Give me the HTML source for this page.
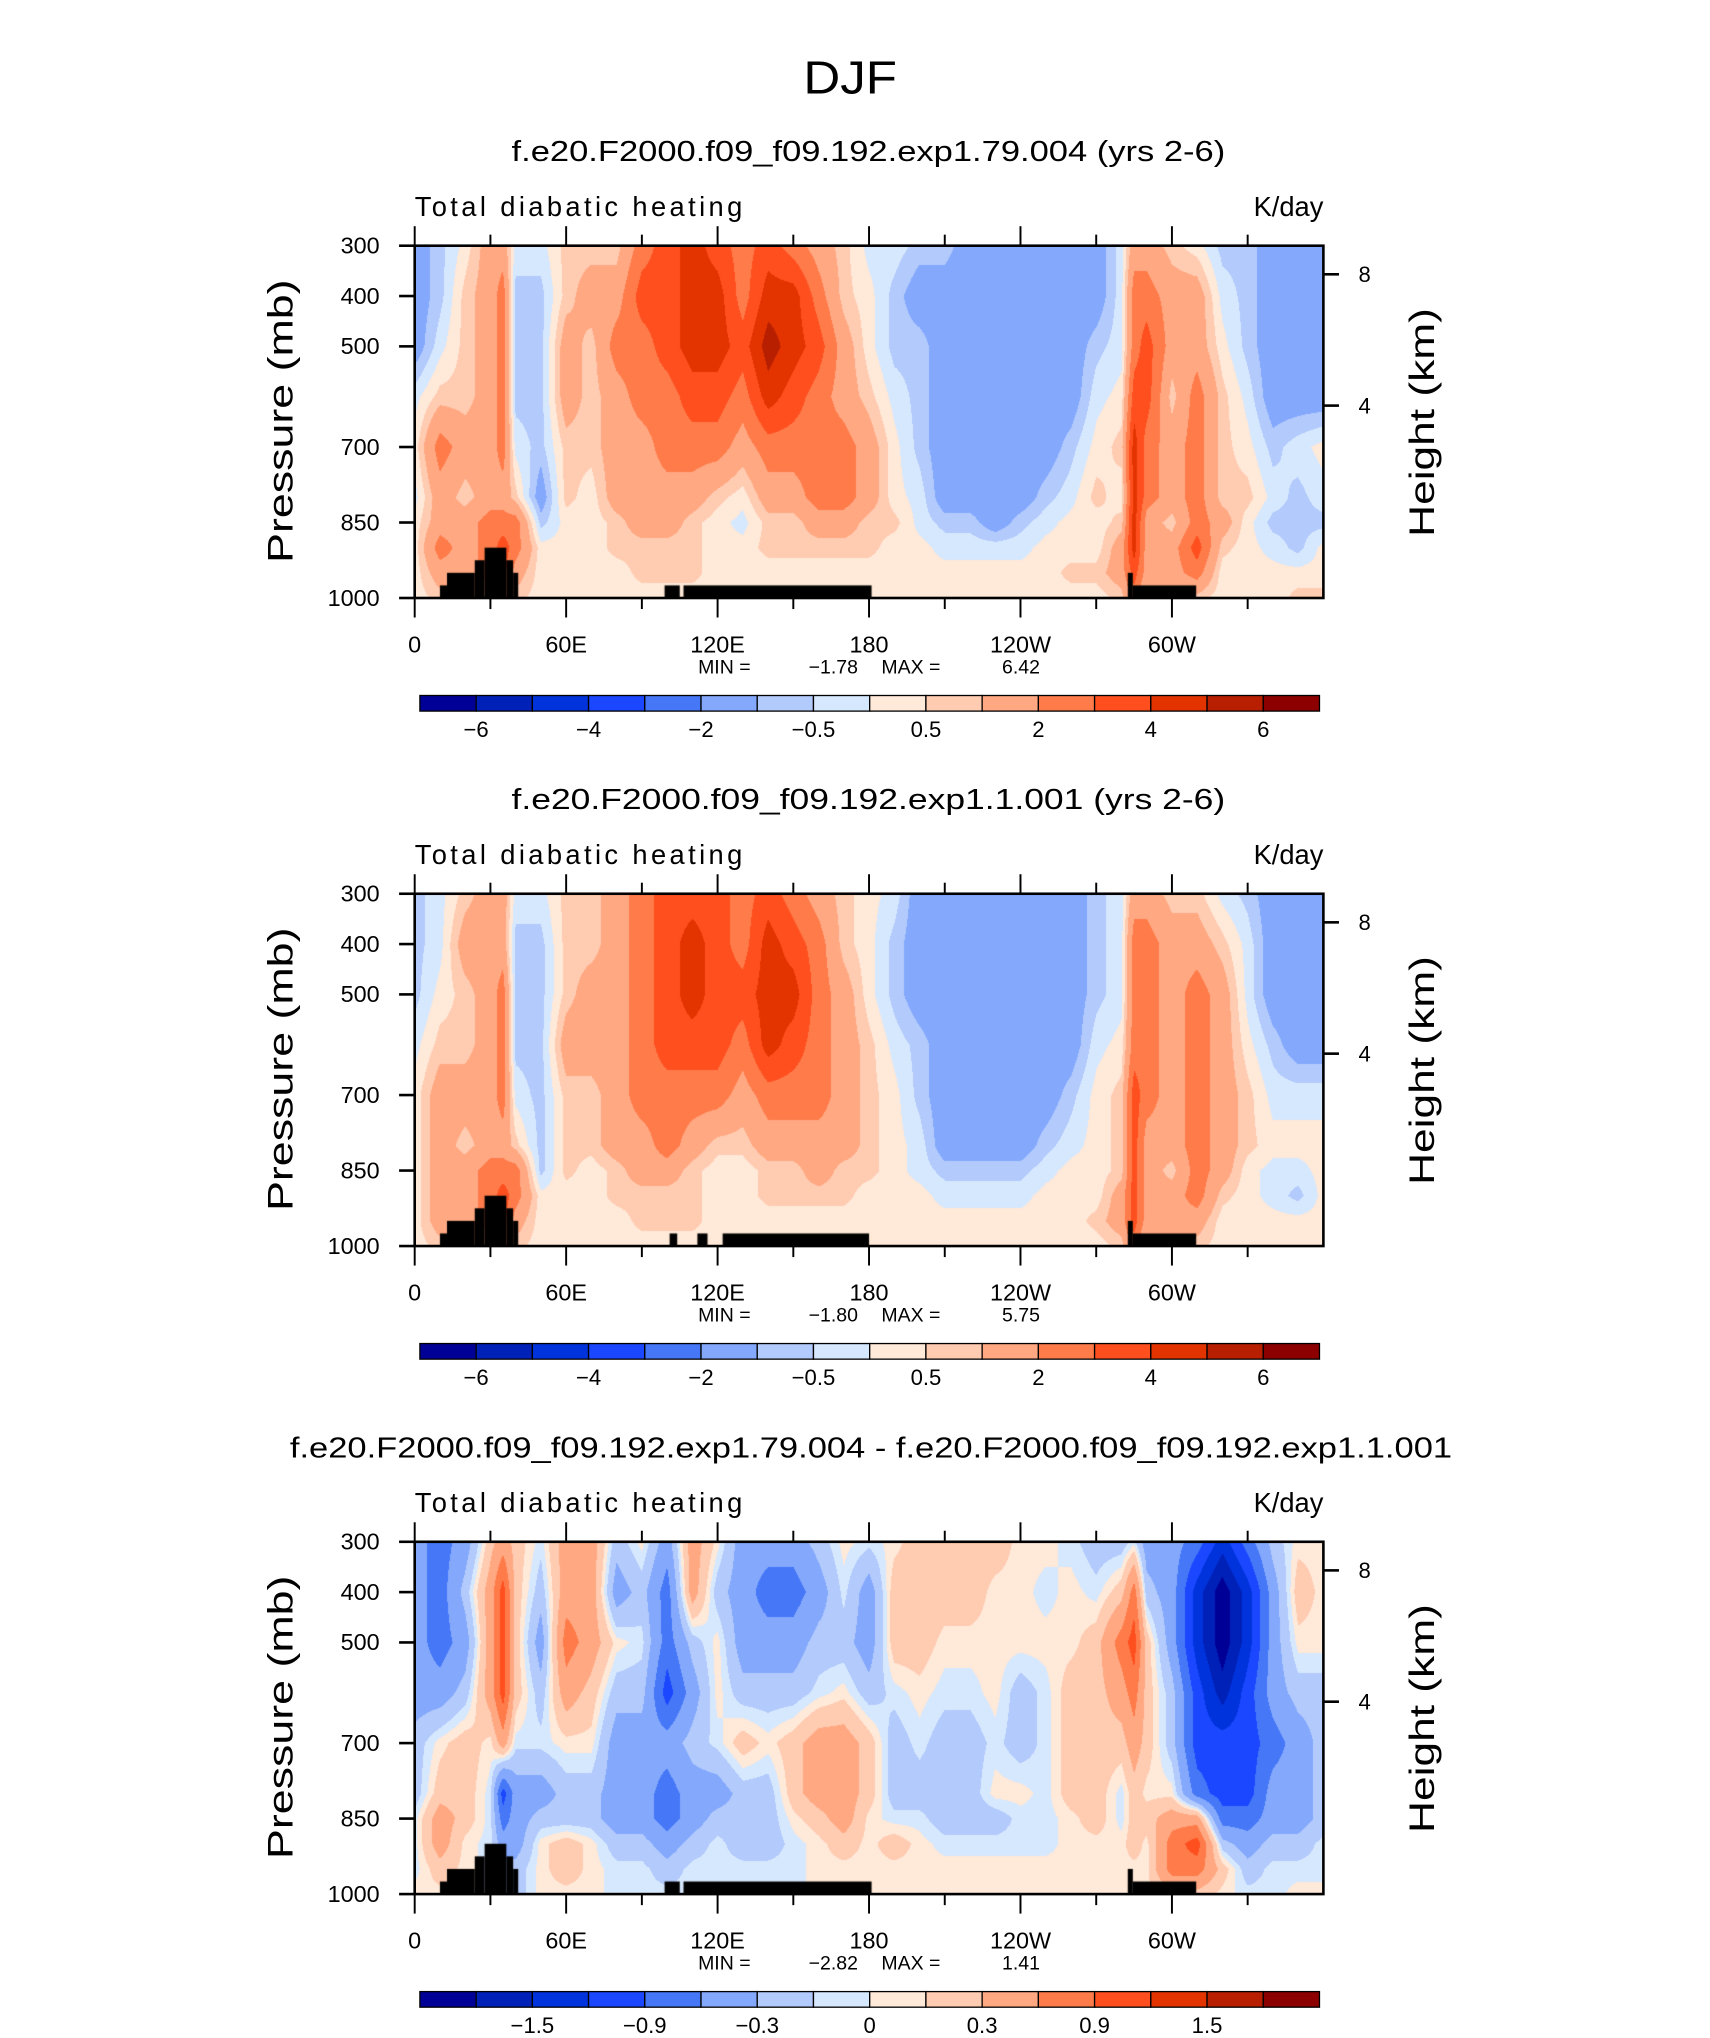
<!DOCTYPE html>
<html><head><meta charset="utf-8"><style>
html,body{margin:0;padding:0;background:#fff;}
#wrap{position:relative;width:1710px;height:2038px;overflow:hidden;}
canvas,svg{position:absolute;left:0;top:0;}
text{font-family:"Liberation Sans",sans-serif;fill:#000;}
</style></head><body>
<div id="wrap">
<canvas id="cv" width="1710" height="2038"></canvas>
<svg id="sv" width="1710" height="2038" viewBox="0 0 1315.4 1567.7"></svg>
</div>
<script>
// ---- data ----
const LON = [0,10,20,30,35,40,50,60,70,80,90,100,110,120,130,140,150,160,170,180,190,200,210,220,230,240,250,260,270,280,285,290,300,310,320,330,340,350,360];
const PLEV = [300,400,500,600,700,800,850,900,950,1000];
const LEVELS_ABS = [-6,-5,-4,-3,-2,-1,-0.5,0,0.5,1,2,3,4,5,6];
const LEVELS_DIFF = [-1.8,-1.5,-1.2,-0.9,-0.6,-0.3,-0.1,0,0.1,0.3,0.6,0.9,1.2,1.5,1.8];
const CB_LABELS_ABS = ['−6','−4','−2','−0.5','0.5','2','4','6'];
const CB_LABEL_IDX_ABS = [0,2,4,6,8,10,12,14];
const CB_LABELS_DIFF = ['−1.5','−0.9','−0.3','0','0.3','0.9','1.5'];
const CB_LABEL_IDX_DIFF = [1,3,5,7,9,11,13];
const PRESS_TICKS = [300,400,500,700,850,1000];
const LON_TICKS = [0,60,120,180,240,300];
const LON_LABELS = ['0','60E','120E','180','120W','60W'];
const HEIGHT_TICKS = [8,4];
const TITLES = ['f.e20.F2000.f09_f09.192.exp1.79.004 (yrs 2-6)','f.e20.F2000.f09_f09.192.exp1.1.001 (yrs 2-6)','f.e20.F2000.f09_f09.192.exp1.79.004 - f.e20.F2000.f09_f09.192.exp1.1.001'];
const MINS = ['−1.78','−1.80','−2.82'];
const MAXS = ['6.42','5.75','1.41'];

// columns by LON, values at PLEV (300..1000)
const field1 = [
[-1.5,-1.5,-1.5,-0.2,0.2,-0.2,0.2,0.2,0.2,0.2],
[-0.7,-0.7,-0.2,0.7,2.5,1.5,1.5,2.5,1.5,0.7],
[0.2,0.7,0.7,0.7,1.5,0.7,1.5,1.5,1.5,0.7],
[1.5,1.5,1.5,1.5,1.5,1.5,2.5,2.5,2.5,1.5],
[1.5,2.5,2.5,2.5,2.5,1.5,2.5,3.5,3.5,2.5],
[-0.2,-0.7,-0.7,-0.7,-0.2,0.7,2.5,2.5,1.5,0.7],
[-0.2,-0.7,-0.7,-0.7,-0.7,-1.5,-0.7,0.2,0.2,0.2],
[0.7,0.7,1.5,1.5,0.7,0.7,0.2,0.2,0.2,0.2],
[0.7,1.5,0.7,0.7,0.7,0.2,0.2,0.2,0.2,0.2],
[0.7,1.5,2.5,1.5,1.5,1.5,0.7,0.7,0.2,0.2],
[2.5,3.5,2.5,2.5,1.5,1.5,1.5,0.7,0.7,0.2],
[3.5,3.5,3.5,2.5,2.5,1.5,1.5,0.7,0.7,0.2],
[4.5,4.5,4.5,3.5,2.5,1.5,0.7,0.7,0.7,0.2],
[3.5,4.5,4.5,3.5,2.5,0.7,0.2,0.2,0.2,0.2],
[2.5,2.5,3.5,2.5,1.5,0.2,-0.2,0.2,0.2,0.2],
[3.5,4.5,5.5,4.5,2.5,1.5,0.7,0.7,0.2,0.2],
[2.5,4.5,4.5,3.5,2.5,1.5,0.7,0.7,0.2,0.2],
[1.5,2.5,3.5,2.5,2.5,2.5,1.5,0.7,0.2,0.2],
[0.7,0.7,1.5,1.5,2.5,2.5,1.5,0.7,0.2,0.2],
[-0.2,0.2,0.2,0.7,1.5,1.5,0.7,0.7,0.2,0.2],
[-0.2,-0.7,-0.7,-0.2,0.2,0.2,0.7,0.2,0.2,0.2],
[-0.7,-1.5,-0.7,-0.7,-0.7,-0.2,-0.2,0.2,0.2,0.2],
[-0.7,-1.5,-1.5,-1.5,-1.5,-1.5,-0.7,-0.2,0.2,0.2],
[-1.5,-1.5,-1.5,-1.5,-1.5,-1.5,-0.7,-0.2,0.2,0.2],
[-1.5,-1.5,-1.5,-1.5,-1.5,-1.5,-1.5,-0.2,0.2,0.2],
[-1.5,-1.5,-1.5,-1.5,-1.5,-1.5,-0.7,-0.2,0.2,0.2],
[-1.5,-1.5,-1.5,-1.5,-1.5,-0.7,-0.2,0.2,0.2,0.2],
[-1.5,-1.5,-1.5,-1.5,-0.7,-0.2,0.2,0.2,0.7,0.2],
[-1.5,-1.5,-0.7,-0.2,0.2,0.7,0.2,0.2,0.7,0.2],
[-0.2,-0.2,-0.2,0.2,0.7,0.2,0.7,1.5,1.5,0.7],
[1.5,2.5,2.5,3.5,4.5,4.5,4.5,4.5,3.5,2.5],
[1.5,2.5,3.5,3.5,2.5,2.5,1.5,1.5,1.5,0.7],
[0.7,1.5,1.5,0.7,1.5,1.5,0.7,1.5,1.5,0.7],
[0.2,1.5,1.5,2.5,2.5,2.5,2.5,3.5,2.5,0.7],
[-0.7,-0.2,0.2,0.7,0.7,0.7,1.5,0.7,0.2,0.2],
[-0.7,-0.7,-0.7,-0.2,0.2,0.7,0.2,0.2,0.2,0.2],
[-1.5,-1.5,-1.5,-1.5,-0.7,-0.2,-0.7,-0.2,0.2,0.2],
[-1.5,-1.5,-1.5,-1.5,-0.2,-0.7,-0.7,-0.7,0.2,0.7],
[-1.5,-1.5,-1.5,-1.5,0.2,-0.2,-0.7,0.2,0.2,0.7]
];
const field2 = [
[-0.7,-0.7,-0.7,-0.2,0.2,0.2,0.2,0.2,0.2,0.2],
[-0.2,-0.2,0.2,0.7,1.5,1.5,1.5,1.5,1.5,0.7],
[0.7,1.5,0.7,0.7,1.5,0.7,1.5,1.5,1.5,0.7],
[1.5,1.5,1.5,1.5,1.5,1.5,2.5,2.5,2.5,1.5],
[1.5,1.5,2.5,2.5,2.5,1.5,2.5,3.5,3.5,2.5],
[-0.2,-0.7,-0.7,-0.7,-0.2,0.7,2.5,2.5,1.5,0.7],
[-0.2,-0.7,-0.7,-0.7,-0.7,-0.7,-0.7,0.2,0.2,0.2],
[0.7,0.7,0.7,1.5,0.7,0.7,0.7,0.2,0.2,0.2],
[0.7,0.7,1.5,1.5,0.7,0.7,0.2,0.2,0.2,0.2],
[1.5,1.5,1.5,1.5,1.5,1.5,0.7,0.7,0.2,0.2],
[2.5,2.5,2.5,2.5,2.5,1.5,1.5,0.7,0.7,0.2],
[3.5,3.5,3.5,3.5,2.5,2.5,1.5,0.7,0.7,0.2],
[3.5,4.5,4.5,3.5,2.5,1.5,0.7,0.7,0.7,0.2],
[3.5,3.5,3.5,3.5,2.5,0.7,0.2,0.2,0.2,0.2],
[2.5,2.5,3.5,2.5,1.5,0.7,0.2,0.2,0.2,0.2],
[3.5,4.5,4.5,4.5,2.5,1.5,0.7,0.7,0.2,0.2],
[2.5,3.5,4.5,3.5,2.5,1.5,0.7,0.7,0.2,0.2],
[1.5,2.5,2.5,2.5,2.5,1.5,1.5,0.7,0.2,0.2],
[0.7,0.7,1.5,1.5,1.5,1.5,0.7,0.7,0.2,0.2],
[0.2,0.2,0.2,0.7,0.7,0.7,0.7,0.2,0.2,0.2],
[-0.2,-0.7,-0.7,-0.2,0.2,0.2,0.2,0.2,0.2,0.2],
[-1.5,-1.5,-1.5,-0.7,-0.7,-0.2,-0.2,0.2,0.2,0.2],
[-1.5,-1.5,-1.5,-1.5,-1.5,-1.5,-0.7,-0.2,0.2,0.2],
[-1.5,-1.5,-1.5,-1.5,-1.5,-1.5,-0.7,-0.2,0.2,0.2],
[-1.5,-1.5,-1.5,-1.5,-1.5,-1.5,-0.7,-0.2,0.2,0.2],
[-1.5,-1.5,-1.5,-1.5,-1.5,-1.5,-0.7,-0.2,0.2,0.2],
[-1.5,-1.5,-1.5,-1.5,-1.5,-0.7,-0.2,0.2,0.2,0.2],
[-1.5,-1.5,-1.5,-1.5,-0.7,-0.2,0.2,0.2,0.2,0.2],
[-0.7,-0.7,-0.7,-0.2,0.2,0.2,0.2,0.2,0.7,0.2],
[-0.2,-0.2,-0.2,0.2,0.7,0.7,0.7,1.5,1.5,0.7],
[1.5,2.5,2.5,2.5,3.5,3.5,3.5,3.5,3.5,2.5],
[1.5,2.5,2.5,2.5,2.5,1.5,1.5,1.5,1.5,0.7],
[0.7,1.5,1.5,1.5,1.5,1.5,0.7,1.5,1.5,0.7],
[0.7,1.5,2.5,2.5,2.5,2.5,2.5,2.5,1.5,0.7],
[-0.2,0.7,1.5,1.5,1.5,1.5,1.5,0.7,0.2,0.2],
[-0.7,-0.2,-0.2,0.2,0.7,0.7,0.2,0.2,0.2,0.2],
[-1.5,-1.5,-1.5,-0.7,-0.2,0.2,-0.2,-0.2,0.2,0.2],
[-1.5,-1.5,-1.5,-1.5,-0.2,0.2,-0.2,-0.7,0.2,0.2],
[-1.5,-1.5,-1.5,-1.5,-0.2,0.2,0.2,0.2,0.2,0.2]
];
const field3 = [
[-0.45,-0.45,-0.45,-0.45,-0.2,-0.2,-0.05,-0.05,-0.05,0.05],
[-0.75,-0.75,-0.75,-0.45,0.05,0.2,0.45,0.45,0.2,0.05],
[-0.45,-0.2,-0.45,-0.2,0.2,0.2,0.2,0.05,0.05,0.05],
[0.2,0.45,0.45,0.45,0.05,-0.05,-0.05,-0.05,-0.05,-0.05],
[0.45,1.05,1.05,1.05,0.45,-1.05,-0.75,-0.45,-0.2,-0.2],
[0.2,0.2,0.2,0.2,-0.05,-0.45,-0.45,-0.45,-0.2,-0.2],
[-0.05,-0.2,-0.45,-0.2,-0.05,-0.45,-0.2,0.05,0.05,0.05],
[0.45,0.45,0.75,0.45,0.05,-0.2,-0.2,0.2,0.2,0.05],
[0.45,0.45,0.45,0.2,0.05,-0.2,-0.2,0.05,0.05,0.05],
[-0.2,-0.45,0.05,-0.2,-0.45,-0.45,-0.45,-0.2,-0.05,-0.05],
[0.05,-0.2,-0.05,-0.2,-0.45,-0.45,-0.45,-0.2,-0.05,-0.05],
[-0.45,-0.75,-0.75,-1.05,-0.45,-0.75,-0.75,-0.45,-0.2,-0.05],
[0.45,0.45,-0.2,-0.45,-0.2,-0.45,-0.45,-0.2,-0.05,-0.05],
[0.05,-0.2,0.05,0.05,-0.05,-0.45,-0.2,-0.05,-0.05,-0.05],
[-0.45,-0.45,-0.45,-0.2,0.2,-0.2,-0.2,-0.2,-0.05,-0.05],
[-0.45,-0.75,-0.45,-0.2,0.05,-0.2,-0.2,-0.2,-0.05,-0.05],
[-0.45,-0.75,-0.45,-0.2,0.2,0.2,0.05,-0.05,-0.05,-0.05],
[-0.2,-0.45,-0.2,-0.05,0.45,0.45,0.2,0.05,0.05,0.05],
[0.05,-0.05,-0.2,0.05,0.45,0.45,0.45,0.2,0.05,0.05],
[-0.05,-0.45,-0.45,-0.2,0.2,0.2,0.05,0.05,0.05,0.05],
[0.05,0.2,0.2,-0.05,-0.2,-0.2,-0.05,0.2,0.05,0.05],
[0.2,0.2,0.2,0.05,-0.05,-0.2,-0.05,0.05,0.05,0.05],
[0.2,0.2,0.05,-0.05,-0.2,-0.2,-0.2,-0.05,0.05,0.05],
[0.2,0.2,0.05,-0.05,-0.2,-0.2,-0.2,-0.05,0.05,0.05],
[0.2,0.05,0.05,0.05,-0.05,0.05,-0.2,-0.05,0.05,0.05],
[0.05,0.05,0.05,-0.2,-0.2,0.05,-0.05,-0.05,0.05,0.05],
[0.05,-0.05,0.05,-0.05,-0.05,-0.05,-0.05,-0.05,0.05,0.05],
[-0.05,0.05,0.05,0.2,0.2,0.2,0.05,0.05,0.05,0.05],
[-0.2,-0.05,0.2,0.2,0.2,0.2,0.2,0.05,0.05,0.05],
[-0.2,0.2,0.75,0.45,0.2,-0.05,-0.05,0.05,0.05,0.05],
[-0.05,0.75,1.05,0.75,0.45,0.2,0.2,0.2,0.05,0.05],
[-0.45,-0.2,0.2,0.2,0.2,0.05,0.2,0.05,0.05,0.05],
[-0.45,-0.45,-0.45,-0.2,-0.2,0.05,0.45,0.75,0.75,0.2],
[-0.75,-1.35,-1.35,-1.05,-1.05,-0.75,0.45,1.05,0.75,0.2],
[-1.35,-2,-2,-1.65,-1.05,-1.05,-0.75,-0.2,0.2,0.05],
[-0.75,-1.35,-1.35,-1.05,-1.05,-1.05,-0.75,-0.45,-0.2,-0.05],
[-0.2,-0.45,-0.45,-0.45,-0.75,-0.45,-0.45,-0.2,-0.05,-0.05],
[0.05,0.2,0.05,-0.2,-0.45,-0.45,-0.45,-0.2,-0.05,0.05],
[0.05,0.05,0.05,-0.2,-0.2,-0.2,-0.2,-0.05,-0.05,0.05]
];
// land (topography) blocks: [lonStart, lonEnd, topPressure]
const land1 = [[10,12.8,975],[12.8,23.8,950],[23.8,27.7,925],[27.7,36.3,900],[36.3,39,925],[39,41,950],[99,105,975],[106.5,181,975],[282.5,284.5,950],[284.5,309.6,975]];
const land2 = [[10,12.8,975],[12.8,23.8,950],[23.8,27.7,925],[27.7,36.3,900],[36.3,39,925],[39,41,950],[101,104,975],[112,116,975],[122,180,975],[282.5,284.5,950],[284.5,309.6,975]];
const land3 = [[10,12.8,975],[12.8,23.8,950],[23.8,27.7,925],[27.7,36.3,900],[36.3,39,925],[39,41,950],[99,105,975],[106.5,181,975],[282.5,284.5,950],[284.5,309.6,975]];

const COLORS = ['#000096','#0021b8','#0033dc','#1a47ff','#4577f7','#84a8fc','#b3cafc','#d6e8fe','#ffe9d8','#ffcbb1','#ffa882','#ff7b4a','#ff4f1f','#e33400','#b81f00','#8c0000'];

const PANELS = [
 {field:field1, land:land1, levels:LEVELS_ABS, cbl:CB_LABELS_ABS, cbi:CB_LABEL_IDX_ABS, off:0},
 {field:field2, land:land2, levels:LEVELS_ABS, cbl:CB_LABELS_ABS, cbi:CB_LABEL_IDX_ABS, off:498.5},
 {field:field3, land:land3, levels:LEVELS_DIFF, cbl:CB_LABELS_DIFF, cbi:CB_LABEL_IDX_DIFF, off:997}
];

const S = 1.3, X0 = 319, X1 = 1018, PY0 = 189, PH = 271;
function xOf(lon){ return X0 + lon*(X1-X0)/360; }
function yOf(p, off){ return PY0 + off + (p-300)/700*PH; }

function interp(field, lon, p){
  let i=0; while(i<LON.length-2 && LON[i+1]<lon) i++;
  let j=0; while(j<PLEV.length-2 && PLEV[j+1]<p) j++;
  const tx=Math.min(1,Math.max(0,(lon-LON[i])/(LON[i+1]-LON[i])));
  const ty=Math.min(1,Math.max(0,(p-PLEV[j])/(PLEV[j+1]-PLEV[j])));
  const a=field[i][j], b=field[i+1][j], c=field[i][j+1], d=field[i+1][j+1];
  return (a*(1-tx)+b*tx)*(1-ty)+(c*(1-tx)+d*tx)*ty;
}
function hex(c){return [parseInt(c.slice(1,3),16),parseInt(c.slice(3,5),16),parseInt(c.slice(5,7),16)];}
const RGB = COLORS.map(hex);

// ---- canvas fields ----
const cv=document.getElementById('cv'), ctx=cv.getContext('2d');
PANELS.forEach(P=>{
  const rx0=Math.round(X0*S), rx1=Math.round(X1*S);
  const ry0=Math.round((PY0+P.off)*S), ry1=Math.round((PY0+P.off+PH)*S);
  const w=rx1-rx0, h=ry1-ry0;
  const img=ctx.createImageData(w,h);
  for(let yy=0;yy<h;yy++){
    const p=300+((ry0+yy+0.5)/S-PY0-P.off)/PH*700;
    for(let xx=0;xx<w;xx++){
      const lon=((rx0+xx+0.5)/S-X0)/(X1-X0)*360;
      const v=interp(P.field,lon,p);
      let k=0; while(k<P.levels.length && P.levels[k]<=v) k++;
      const c=RGB[k], o=(yy*w+xx)*4;
      img.data[o]=c[0];img.data[o+1]=c[1];img.data[o+2]=c[2];img.data[o+3]=255;
    }
  }
  ctx.putImageData(img,rx0,ry0);
  ctx.fillStyle='#000';
  P.land.forEach(L=>{
    const x=xOf(L[0])*S, x2=xOf(L[1])*S, y=yOf(L[2],P.off)*S, y2=yOf(1000,P.off)*S;
    ctx.fillRect(x,y,x2-x,y2-y);
  });
});

// ---- svg overlay ----
const NS='http://www.w3.org/2000/svg', sv=document.getElementById('sv');
function mk(tag, attrs, txt, parent){
  const e=document.createElementNS(NS,tag);
  for(const k in attrs) e.setAttribute(k,attrs[k]);
  if(txt!==undefined) e.textContent=txt;
  (parent||sv).appendChild(e); return e;
}
let e;
e=mk('text',{x:654,y:72,'font-size':36,'text-anchor':'middle',textLength:72,lengthAdjust:'spacingAndGlyphs'},'DJF');



PANELS.forEach((P,pi)=>{
  const off=P.off;
  const g=mk('g',{});
  
  
  const tw = pi===2 ? 894 : 549;
  const tx = pi===2 ? 670 : 668;
  e=mk('text',{x:tx,y:124+off,'font-size':22,'text-anchor':'middle',textLength:tw,lengthAdjust:'spacingAndGlyphs'},TITLES[pi],g);
  
  
  e=mk('text',{x:319,y:166+off,'font-size':21,textLength:252,lengthAdjust:'spacing'},'Total diabatic heating',g);
  
  
  e=mk('text',{x:1018,y:166+off,'font-size':21,'text-anchor':'end'},'K/day',g);
  
  
  const y0=PY0+off, y1=y0+PH;
  e=mk('rect',{x:X0,y:y0,width:X1-X0,height:PH,fill:'none',stroke:'#000','stroke-width':2},undefined,g);
  
  
  // pressure ticks
  PRESS_TICKS.forEach(pv=>{
    const y=yOf(pv,off);
    e=mk('line',{x1:X0-12,x2:X0,y1:y,y2:y,stroke:'#000','stroke-width':2},undefined,g);
    
    
    e=mk('text',{x:292,y:y+6,'font-size':18,'text-anchor':'end'},String(pv),g);
    
    
  });
  // height ticks
  HEIGHT_TICKS.forEach((hv,i)=>{
    const y=[211,312][i]+off;
    e=mk('line',{x1:X1,x2:X1+12,y1:y,y2:y,stroke:'#000','stroke-width':2},undefined,g);
    
    
    e=mk('text',{x:1045,y:y+6,'font-size':17},String(hv),g);
    
    
  });
  // lon ticks
  for(let lon=0;lon<360;lon+=30){
    const x=xOf(lon), major=lon%60===0;
    e=mk('line',{x1:x,x2:x,y1:y0-(major?15:8.5),y2:y0,stroke:'#000','stroke-width':1.5},undefined,g);
    
    
    e=mk('line',{x1:x,x2:x,y1:y1,y2:y1+(major?15:8.5),stroke:'#000','stroke-width':1.5},undefined,g);
    
    
  }
  LON_TICKS.forEach((lv,i)=>{
    e=mk('text',{x:xOf(lv),y:y1+42,'font-size':18,'text-anchor':'middle'},LON_LABELS[i],g);
    
    
  });
  e=mk('text',{x:0,y:0,'font-size':27,'text-anchor':'middle',textLength:218,lengthAdjust:'spacingAndGlyphs',transform:`translate(225,${324+off}) rotate(-90)`},'Pressure (mb)',g);
  
  
  e=mk('text',{x:0,y:0,'font-size':27,'text-anchor':'middle',textLength:176,lengthAdjust:'spacingAndGlyphs',transform:`translate(1103,${325+off}) rotate(-90)`},'Height (km)',g);
  
  
  e=mk('text',{x:537,y:518+off,'font-size':15},'MIN =',g);
  
  
  e=mk('text',{x:660,y:518+off,'font-size':15,'text-anchor':'end'},MINS[pi],g);
  
  
  e=mk('text',{x:678,y:518+off,'font-size':15},'MAX =',g);
  
  
  e=mk('text',{x:800,y:518+off,'font-size':15,'text-anchor':'end'},MAXS[pi],g);
  
  
  // colorbar
  const cx0=323, cx1=1015, bw=(cx1-cx0)/16, cy=535+off, ch=12;
  const cb=mk('g',{},undefined,g);
  
  
  COLORS.forEach((c,i)=>{
    e=mk('rect',{x:cx0+i*bw,y:cy,width:bw,height:ch,fill:c,stroke:'#000','stroke-width':1},undefined,cb);
    
    
  });
  P.cbi.forEach((bi,i)=>{
    e=mk('text',{x:cx0+(bi+1)*bw,y:cy+32,'font-size':17,'text-anchor':'middle'},P.cbl[i],cb);
    
    
  });
});
</script>
</body></html>
